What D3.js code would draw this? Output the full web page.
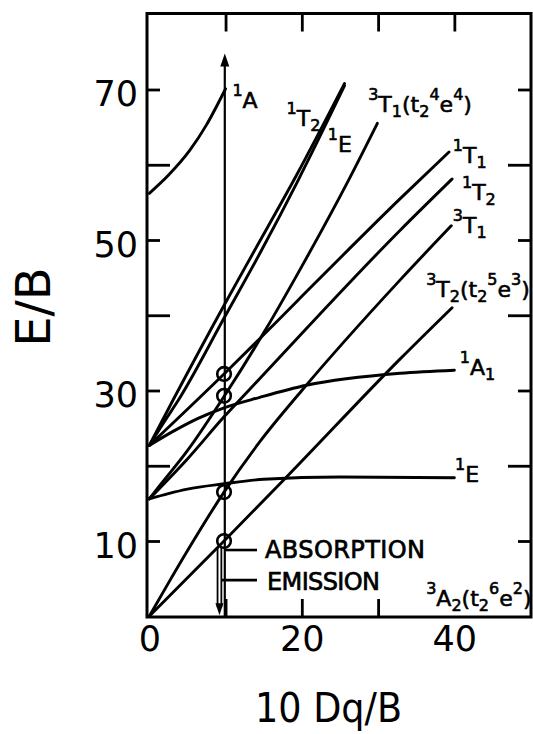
<!DOCTYPE html>
<html>
<head>
<meta charset="utf-8">
<script src="https://cdn.jsdelivr.net/npm/d3@7"></script>
<style>
  body { margin: 0; background: #fff; }
  text { font-family: "DejaVu Sans", sans-serif; fill: #000; }
</style>
</head>
<body>
<div id="chart-area"></div>
<script>
// tick values
const xTickLabels = [0, 20, 40];
const xTopTicks = [10, 20, 30, 40];
const xBottomTicks = [10, 20, 30];
const yTickLabels = [10, 30, 50, 70];
const yMinorTicks = [20, 40, 60];

// energy levels, [10Dq/B, E/B]
const a1Upper = [[0, 56.2], [2.5, 58.6], [5.3, 61.9], [7.5, 65.3], [10, 70.1]];
const t2Steep = [[0, 22.7], [3.1, 28.7], [9.9, 41.5], [13.8, 48.6], [19.3, 58.6], [25.6, 70.8]];
const eSteep = [[0, 22.7], [1.8, 25.6], [3.8, 28.7], [9.9, 39.8], [14.7, 48.6], [19.5, 57.9], [25.6, 70.5]];
const t1P = [[0, 15.6], [1, 16.9], [5, 22], [9.8, 29.2], [15.2, 38], [20, 46.5], [26.1, 57.9], [29.9, 65.5]];
const t1Singlet = [[0, 22.7], [9.8, 32.2], [14.5, 36.9], [19.5, 42], [32.9, 55.5], [39.3, 61.7]];
const t2Singlet = [[0, 15.6], [5, 20.9], [9.8, 26.5], [14.5, 31.6], [32.9, 51.3], [39.7, 58.1]];
const t1F = [[0, 0], [2.5, 4.4], [5, 8.7], [9.8, 16.5], [14.5, 23.2], [20, 30], [32.9, 44.7], [39.6, 51.9]];
const t2Triplet = [[0, 0], [9.8, 10], [18, 18.5], [32.9, 34.2], [39.7, 41]];
const a1Lower = [[0, 22.7], [3, 24.5], [6.4, 26.3], [9.8, 27.7], [14.5, 29.1], [20.6, 30.7], [32.9, 32.3], [40, 32.7]];
const eLower = [[0, 15.6], [2.5, 16.3], [5, 16.9], [9.8, 17.6], [15, 18.2], [25, 18.5], [40, 18.4]];

const curves = [a1Upper, t2Steep, eSteep, t1P, t1Singlet, t2Singlet, t1F, t2Triplet, a1Lower, eLower];

// observed bands (circles) on the 10Dq/B = 9.8 line
const bandX = 9.8;
const bandLevels = [10, 16.5, 29.3, 32.2];

// state labels: [text, 'sup' | 'sub' | '']
const stateLabels = [
  { at: [10.9, 67.5], parts: [['1', 'sup'], ['A', '']] },
  { at: [18.0, 65.2], parts: [['1', 'sup'], ['T', ''], ['2', 'sub']] },
  { at: [23.4, 61.7], parts: [['1', 'sup'], ['E', '']] },
  { at: [28.7, 67.0], parts: [['3', 'sup'], ['T', ''], ['1', 'sub'], ['(t', ''], ['2', 'sub'], ['4', 'sup'], ['e', ''], ['4', 'sup'], [')', '']] },
  { at: [39.8, 60.2], parts: [['1', 'sup'], ['T', ''], ['1', 'sub']] },
  { at: [41.0, 55.3], parts: [['1', 'sup'], ['T', ''], ['2', 'sub']] },
  { at: [39.8, 50.9], parts: [['3', 'sup'], ['T', ''], ['1', 'sub']] },
  { at: [36.3, 42.4], parts: [['3', 'sup'], ['T', ''], ['2', 'sub'], ['(t', ''], ['2', 'sub'], ['5', 'sup'], ['e', ''], ['3', 'sup'], [')', '']] },
  { at: [40.7, 32.0], parts: [['1', 'sup'], ['A', ''], ['1', 'sub']] },
  { at: [40.1, 17.8], parts: [['1', 'sup'], ['E', '']] },
  { at: [36.3, 1.4], parts: [['3', 'sup'], ['A', ''], ['2', 'sub'], ['(t', ''], ['2', 'sub'], ['6', 'sup'], ['e', ''], ['2', 'sup'], [')', '']] }
];

const W = 533, H = 734;

const svg = d3.select('#chart-area').append('svg')
  .attr('width', W)
  .attr('height', H);

const x = d3.scaleLinear().domain([-0.3, 50.05]).range([147, 531]);
const y = d3.scaleLinear().domain([-0.1, 80.1]).range([617, 13.5]);

// frame
svg.append('rect')
  .attr('x', x(-0.3)).attr('y', y(80.1))
  .attr('width', x(50.05) - x(-0.3))
  .attr('height', y(-0.1) - y(80.1))
  .attr('fill', 'none')
  .attr('stroke', '#000')
  .attr('stroke-width', 3);

function styleAxis(g) {
  g.select('.domain').remove();
  g.selectAll('.tick line').attr('stroke', '#000').attr('stroke-width', 2.8);
  g.selectAll('.tick text').attr('font-size', '35px').attr('fill', '#000')
    .attr('font-family', '"DejaVu Sans", sans-serif');
}

// left axis
svg.append('g').attr('transform', `translate(${x(-0.3)},0)`)
  .call(d3.axisLeft(y).tickValues(yTickLabels).tickSizeInner(-13).tickSizeOuter(0).tickPadding(9))
  .call(styleAxis)
  .selectAll('.tick text').attr('dy', '0.46em');
svg.append('g').attr('transform', `translate(${x(-0.3)},0)`)
  .call(d3.axisLeft(y).tickValues(yMinorTicks).tickSizeInner(-23).tickSizeOuter(0).tickFormat(''))
  .call(styleAxis);

// right axis
svg.append('g').attr('transform', `translate(${x(50.05)},0)`)
  .call(d3.axisRight(y).tickValues(yTickLabels).tickSizeInner(-13).tickSizeOuter(0).tickFormat(''))
  .call(styleAxis);
svg.append('g').attr('transform', `translate(${x(50.05)},0)`)
  .call(d3.axisRight(y).tickValues(yMinorTicks).tickSizeInner(-23).tickSizeOuter(0).tickFormat(''))
  .call(styleAxis);

// top axis
svg.append('g').attr('transform', `translate(0,${y(80.1)})`)
  .call(d3.axisTop(x).tickValues(xTopTicks).tickSizeInner(-18).tickSizeOuter(0).tickFormat(''))
  .call(styleAxis);

// bottom axis
svg.append('g').attr('transform', `translate(0,${y(-0.1)})`)
  .call(d3.axisBottom(x).tickValues(xBottomTicks).tickSizeInner(-18).tickSizeOuter(0).tickFormat(''))
  .call(styleAxis);
svg.append('g').attr('transform', `translate(0,${y(-0.1)})`)
  .call(d3.axisBottom(x).tickValues(xTickLabels).tickSize(0).tickPadding(9))
  .call(styleAxis);

// axis titles
svg.append('text')
  .attr('transform', 'translate(50,307) rotate(-90)')
  .attr('text-anchor', 'middle')
  .attr('font-size', '48px')
  .text('E/B');

svg.append('text')
  .attr('x', 255).attr('y', 722)
  .attr('font-size', '41px')
  .attr('textLength', 147)
  .attr('lengthAdjust', 'spacingAndGlyphs')
  .text('10 Dq/B');

// curves
const line = d3.line()
  .x(d => x(d[0]))
  .y(d => y(d[1]))
  .curve(d3.curveMonotoneX);

svg.append('g').selectAll('path')
  .data(curves)
  .enter().append('path')
  .attr('d', line)
  .attr('fill', 'none')
  .attr('stroke', '#000')
  .attr('stroke-width', 2.9)
  .attr('stroke-linecap', 'round');

// vertical arrow at 10Dq/B ~ 10
const arrowX = 9.9, arrowTop = 74.8;
svg.append('line')
  .attr('x1', x(arrowX)).attr('x2', x(arrowX))
  .attr('y1', y(0)).attr('y2', y(arrowTop) + 8)
  .attr('stroke', '#000').attr('stroke-width', 2.2);
svg.append('path')
  .attr('d', `M${x(arrowX)},${y(arrowTop)} l-4.5,13 l9,0 Z`)
  .attr('fill', '#000');

// emission arrow (downwards)
const emitX = 9.2;
[emitX - 0.25, emitX + 0.25].forEach(v => {
  svg.append('line')
    .attr('x1', x(v)).attr('x2', x(v))
    .attr('y1', y(9.2)).attr('y2', y(1.2))
    .attr('stroke', '#000').attr('stroke-width', 1.8);
});
svg.append('path')
  .attr('d', `M${x(emitX)},${y(0) - 1} l-4,-12 l8,0 Z`)
  .attr('fill', '#000');

// band circles
svg.append('g').selectAll('circle')
  .data(bandLevels)
  .enter().append('circle')
  .attr('cx', x(bandX))
  .attr('cy', d => y(d))
  .attr('r', 6.8)
  .attr('fill', 'none')
  .attr('stroke', '#000')
  .attr('stroke-width', 2.6);

// absorption / emission pointers
svg.append('line')
  .attr('x1', x(10)).attr('x2', 257)
  .attr('y1', y(8.8)).attr('y2', y(8.8))
  .attr('stroke', '#000').attr('stroke-width', 2.6);
svg.append('line')
  .attr('x1', x(9.5)).attr('x2', 257)
  .attr('y1', y(4.8)).attr('y2', y(4.8))
  .attr('stroke', '#000').attr('stroke-width', 2.6);
svg.append('text')
  .attr('x', 265).attr('y', 558)
  .attr('font-size', '24px')
  .attr('textLength', 160)
  .attr('stroke', '#000').attr('stroke-width', 0.7)
  .text('ABSORPTION');
svg.append('text')
  .attr('x', 267).attr('y', 590)
  .attr('font-size', '24px')
  .attr('textLength', 113)
  .attr('stroke', '#000').attr('stroke-width', 0.7)
  .text('EMISSION');

// state labels with super/subscripts
const shift = { sup: -12, sub: 5, '': 0 };
stateLabels.forEach(lab => {
  const t = svg.append('text')
    .attr('x', x(lab.at[0]))
    .attr('y', y(lab.at[1]))
    .attr('font-size', '22px')
    .attr('stroke', '#000')
    .attr('stroke-width', 0.6);
  let prev = 0;
  lab.parts.forEach(p => {
    const off = shift[p[1]];
    t.append('tspan')
      .attr('dy', off - prev)
      .attr('font-size', p[1] ? '16px' : '22px')
      .text(p[0]);
    prev = off;
  });
});
</script>
</body>
</html>
